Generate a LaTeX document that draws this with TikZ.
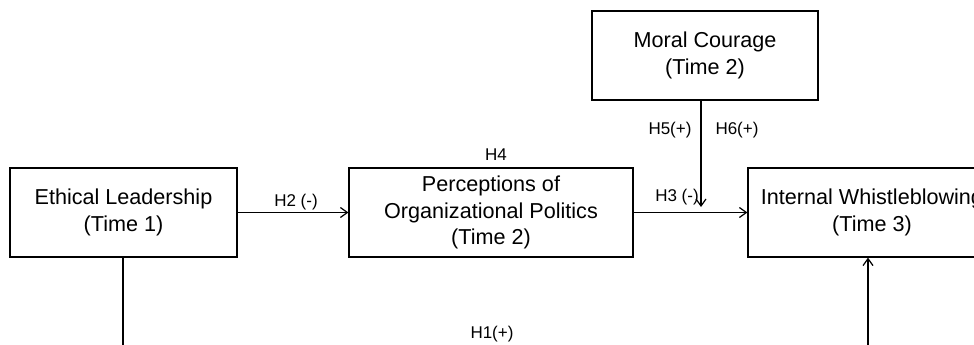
\documentclass[tikz,border=0pt]{standalone}
\usepackage{fontspec}
\setmainfont{Liberation Sans}
\usepackage{tikz}
\usetikzlibrary{positioning,calc,arrows.meta}

\begin{document}
\begin{tikzpicture}[x=1pt, y=-1pt,
    varbox/.style={draw, line width=1.2pt, align=center, inner sep=0pt,
        minimum height=89pt, font=\fontsize{21.6}{26.5}\selectfont},
    hyp/.style={font=\fontsize{17}{20}\selectfont},
    link/.style={line width=1.2pt, -{Straight Barb[length=7pt,width=10pt,line width=1.2pt]}}]
    \clip (0,0) rectangle (974,345);

    % Boxes
    \node[varbox, minimum width=227pt] (lead) at (123.5,212.5) {Ethical Leadership\\(Time 1)};
    \node[varbox, minimum width=284pt] (pop) at (491,212.5) {Perceptions of\\Organizational Politics\\(Time 2)};
    \node[varbox, minimum width=226pt] (courage) at (705,55.5) {Moral Courage\\(Time 2)};
    \node[varbox, minimum width=248pt] (whistle) at (872,212.5) {Internal Whistleblowing\\(Time 3)};

    % Free ends
    \coordinate (leaddown) at (123,360);
    \coordinate (whistleup) at (868,360);
    \coordinate (modpoint) at (701,207);

    % Arrows
    \draw[link] (lead.east) -- (pop.west);
    \draw[link] (pop.east) -- (whistle.west);
    \draw[link] (courage.south -| modpoint) -- (modpoint);
    \draw[line width=1.2pt] (lead.south -| leaddown) -- (leaddown);
    \draw[link] (whistleup) -- (whistleup |- whistle.south);

    % Labels
    \node[hyp] (h2) at (296,202) {H2 (-)};
    \node[hyp] (h3) at (677,197) {H3 (-)};
    \node[hyp] (h4) at (496,155) {H4};
    \node[hyp] (h5) at (670,130) {H5(+)};
    \node[hyp] (h6) at (737,130) {H6(+)};
    \node[hyp] (h1) at (492,334) {H1(+)};
\end{tikzpicture}
\end{document}
